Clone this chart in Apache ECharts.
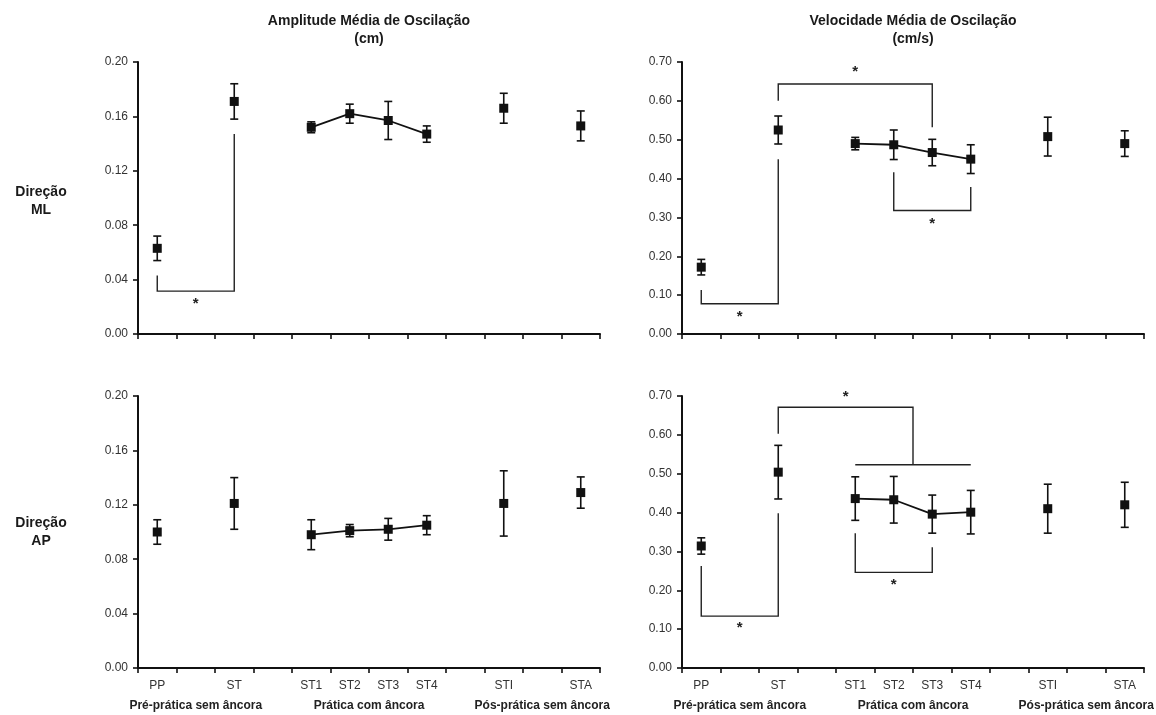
<!DOCTYPE html>
<html>
<head>
<meta charset="utf-8">
<script src="https://cdn.jsdelivr.net/npm/echarts@6/dist/echarts.min.js"></script>
<style>
  html, body { margin: 0; padding: 0; background: #fff; }
  #chart { width: 1156px; height: 715px; }
</style>
</head>
<body>
<div id="chart"></div>
<script>
// categorias do eixo x (as vazias são os espaços entre os blocos)
const categories = ['PP', '', 'ST', '', 'ST1', 'ST2', 'ST3', 'ST4', '', 'STI', '', 'STA'];
const groupLabels = ['Pré-prática sem âncora', 'Prática com âncora', 'Pós-prática sem âncora'];
const groupCenters = [1, 5.5, 10];

const ampTicks = [0, 0.2, 0.04];
const velTicks = [0, 0.7, 0.1];

// Amplitude (cm)
const ampML = [0.063, null, 0.171, null, 0.152, 0.162, 0.157, 0.147, null, 0.166, null, 0.153];
const ampMLErr = [0.009, null, 0.013, null, 0.004, 0.007, 0.014, 0.006, null, 0.011, null, 0.011];
const ampAP = [0.100, null, 0.121, null, 0.098, 0.101, 0.102, 0.105, null, 0.121, null, 0.129];
const ampAPErr = [0.009, null, 0.019, null, 0.011, 0.0045, 0.008, 0.007, null, 0.024, null, 0.0115];

// Velocidade (cm/s)
const velML = [0.172, null, 0.525, null, 0.490, 0.487, 0.467, 0.450, null, 0.508, null, 0.490];
const velMLErr = [0.020, null, 0.036, null, 0.016, 0.038, 0.034, 0.037, null, 0.050, null, 0.033];
const velAP = [0.314, null, 0.504, null, 0.436, 0.433, 0.396, 0.401, null, 0.410, null, 0.420];
const velAPErr = [0.021, null, 0.069, null, 0.056, 0.060, 0.049, 0.056, null, 0.063, null, 0.058];

// colchetes de significância: pontos em [índice da categoria, valor] e posição do asterisco
const bracketsAmpML = [
  { pts: [[0, 0.043], [0, 0.0315], [2, 0.0315], [2, 0.147]], star: [1, 0.022] }
];
const bracketsAmpAP = [];
const bracketsVelML = [
  { pts: [[0, 0.113], [0, 0.078], [2, 0.078], [2, 0.450]], star: [1, 0.044] },
  { pts: [[2, 0.600], [2, 0.6435], [6, 0.6435], [6, 0.532]], star: [4, 0.674] },
  { pts: [[5, 0.416], [5, 0.318], [7, 0.318], [7, 0.378]], star: [6, 0.284] }
];
const bracketsVelAP = [
  { pts: [[0, 0.2625], [0, 0.1336], [2, 0.1336], [2, 0.398]], star: [1, 0.1025] },
  { pts: [[2, 0.603], [2, 0.671], [5.5, 0.671], [5.5, 0.523]], star: [3.75, 0.698] },
  { pts: [[4, 0.523], [7, 0.523]], star: null },
  { pts: [[4, 0.347], [4, 0.246], [6, 0.246], [6, 0.311]], star: [5, 0.214] }
];

const FONT = '"Liberation Sans", Arial, sans-serif';
const INK = '#111';

const panels = [
  { mean: ampML, err: ampMLErr, brackets: bracketsAmpML, ticks: ampTicks, grid: { left: 138, top: 62 }, labels: false },
  { mean: velML, err: velMLErr, brackets: bracketsVelML, ticks: velTicks, grid: { left: 682, top: 62 }, labels: false },
  { mean: ampAP, err: ampAPErr, brackets: bracketsAmpAP, ticks: ampTicks, grid: { left: 138, top: 396 }, labels: true },
  { mean: velAP, err: velAPErr, brackets: bracketsVelAP, ticks: velTicks, grid: { left: 682, top: 396 }, labels: true }
];

// coordenada com índice fracionário no eixo de categorias
function coordAt(api, x, y) {
  const f = Math.floor(x);
  if (x === f) return api.coord([x, y]);
  const a = api.coord([f, y]);
  const b = api.coord([f + 1, y]);
  return [a[0] + (b[0] - a[0]) * (x - f), a[1]];
}

function renderErr(params, api) {
  const x = api.value(0);
  const lo = api.coord([x, api.value(1)]);
  const hi = api.coord([x, api.value(2)]);
  const w = 4;
  const st = { stroke: INK, lineWidth: 1.6 };
  return {
    type: 'group',
    children: [
      { type: 'line', shape: { x1: lo[0], y1: lo[1], x2: hi[0], y2: hi[1] }, style: st },
      { type: 'line', shape: { x1: lo[0] - w, y1: lo[1], x2: lo[0] + w, y2: lo[1] }, style: st },
      { type: 'line', shape: { x1: hi[0] - w, y1: hi[1], x2: hi[0] + w, y2: hi[1] }, style: st }
    ]
  };
}

function makeBracketRender(brackets) {
  return function (params, api) {
    const b = brackets[params.dataIndex];
    const children = [{
      type: 'polyline',
      shape: { points: b.pts.map(p => coordAt(api, p[0], p[1])) },
      style: { stroke: '#222', lineWidth: 1.4, fill: null }
    }];
    if (b.star) {
      const s = coordAt(api, b.star[0], b.star[1]);
      children.push({
        type: 'text', x: s[0], y: s[1],
        style: { text: '*', textAlign: 'center', textVerticalAlign: 'middle', font: 'bold 15px ' + FONT, fill: '#222' }
      });
    }
    return { type: 'group', children: children };
  };
}

const grids = [], xAxes = [], yAxes = [], series = [];
panels.forEach((p, i) => {
  grids.push({ left: p.grid.left, top: p.grid.top, width: 462, height: 272 });
  xAxes.push({
    type: 'category', gridIndex: i, data: categories, boundaryGap: true,
    axisLine: { lineStyle: { color: INK, width: 2 } },
    axisTick: { show: true, interval: 0, length: 5, lineStyle: { color: INK, width: 1.6 } },
    axisLabel: { show: p.labels, interval: 0, margin: 12, color: '#333', fontSize: 12, fontFamily: FONT }
  });
  yAxes.push({
    type: 'value', gridIndex: i, min: p.ticks[0], max: p.ticks[1], interval: p.ticks[2],
    splitLine: { show: false },
    axisLine: { show: true, lineStyle: { color: INK, width: 2 } },
    axisTick: { show: true, length: 5, lineStyle: { color: INK, width: 1.6 } },
    axisLabel: { margin: 10, color: '#333', fontSize: 12, fontFamily: FONT, formatter: v => v.toFixed(2) }
  });
  const errData = [];
  p.mean.forEach((v, k) => {
    if (v !== null) errData.push([k, v - p.err[k], v + p.err[k]]);
  });
  series.push({
    type: 'custom', xAxisIndex: i, yAxisIndex: i, renderItem: renderErr,
    data: errData, encode: { x: 0, y: [1, 2] }, silent: true, z: 2
  });
  series.push({
    type: 'line', xAxisIndex: i, yAxisIndex: i, data: p.mean, connectNulls: false,
    symbol: 'rect', symbolSize: 9, showAllSymbol: true,
    itemStyle: { color: INK }, lineStyle: { color: INK, width: 1.8 }, z: 3, silent: true
  });
  if (p.brackets.length) {
    series.push({
      type: 'custom', xAxisIndex: i, yAxisIndex: i, renderItem: makeBracketRender(p.brackets),
      data: p.brackets.map(b => b.pts[0]), silent: true, z: 1
    });
  }
});

const chart = echarts.init(document.getElementById('chart'), null, { renderer: 'canvas' });
chart.setOption({
  backgroundColor: '#fff',
  animation: false,
  grid: grids,
  xAxis: xAxes,
  yAxis: yAxes,
  series: series
});

// textos: títulos, rótulos das linhas e dos grupos
function txt(x, y, text, size, color) {
  return {
    type: 'text', x: x, y: y,
    style: { text: text, textAlign: 'center', textVerticalAlign: 'middle', font: 'bold ' + size + 'px ' + FONT, fill: color || '#1a1a1a' }
  };
}
const graphics = [
  txt(369, 21, 'Amplitude Média de Oscilação', 14),
  txt(369, 39, '(cm)', 14),
  txt(913, 21, 'Velocidade Média de Oscilação', 14),
  txt(913, 39, '(cm/s)', 14),
  txt(41, 192, 'Direção', 14),
  txt(41, 210, 'ML', 14),
  txt(41, 523, 'Direção', 14),
  txt(41, 541, 'AP', 14)
];
[2, 3].forEach(ai => {
  groupCenters.forEach((c, g) => {
    const f = Math.floor(c);
    let x = chart.convertToPixel({ xAxisIndex: ai }, f);
    if (c !== f) {
      const x2 = chart.convertToPixel({ xAxisIndex: ai }, f + 1);
      x = x + (x2 - x) * (c - f);
    }
    graphics.push(txt(x, 706, groupLabels[g], 12, '#222'));
  });
});
chart.setOption({ graphic: graphics });
</script>
</body>
</html>
